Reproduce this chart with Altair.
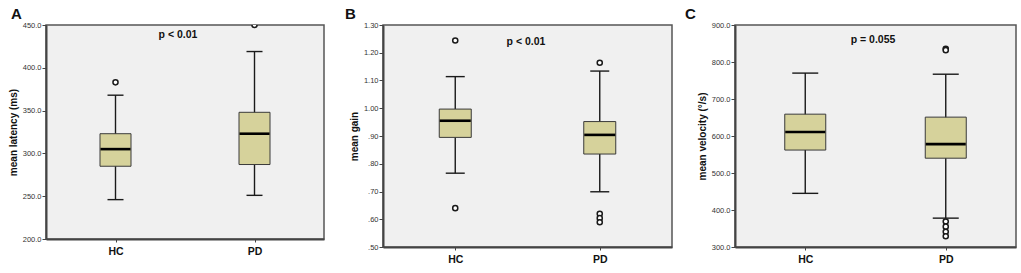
import altair as alt
import pandas as pd

groups = ["HC", "PD"]

# Panel A: mean latency (ms)
lat_low = [246, 251]
lat_q1 = [285, 287]
lat_med = [305, 323]
lat_q3 = [323, 348]
lat_high = [368, 419]
lat_out_group = ["HC", "PD"]
lat_out_value = [383, 450]
lat_ticks = [200, 250, 300, 350, 400, 450]

# Panel B: mean gain
gain_low = [0.766, 0.699]
gain_q1 = [0.895, 0.835]
gain_med = [0.955, 0.904]
gain_q3 = [0.997, 0.952]
gain_high = [1.114, 1.134]
gain_out_group = ["HC", "HC", "PD", "PD", "PD", "PD"]
gain_out_value = [1.244, 0.640, 1.164, 0.620, 0.604, 0.589]
gain_ticks = [0.5, 0.6, 0.7, 0.8, 0.9, 1.0, 1.1, 1.2, 1.3]

# Panel C: mean velocity
vel_low = [445, 378]
vel_q1 = [562, 540]
vel_med = [611, 578]
vel_q3 = [659, 651]
vel_high = [770, 767]
vel_out_group = ["PD", "PD", "PD", "PD", "PD", "PD"]
vel_out_value = [836, 832, 369, 355, 341, 329]
vel_ticks = [300, 400, 500, 600, 700, 800, 900]

letters = ["A", "B", "C"]
p_texts = ["p < 0.01", "p < 0.01", "p = 0.055"]
y_titles = ["mean latency (ms)", "mean gain", "mean velocity (°/s)"]

FONT = "Liberation Sans"
BOX_FILL = "#d6d29b"


def panel(letter, ptext, ytitle, low, q1, med, q3, high, og, ov, ticks,
          label_expr, width, height, box_w, cap_w, letter_dx, p_x, p_y):
    stats = pd.DataFrame({"group": groups, "low": low, "q1": q1, "med": med,
                          "q3": q3, "high": high})
    outs = pd.DataFrame({"group": og, "value": ov})
    xenc = alt.X("group:N",
                 scale=alt.Scale(type="point", padding=0.5, domain=groups),
                 axis=alt.Axis(title=None, labelAngle=0, labelFont=FONT,
                               labelFontSize=10.5, labelFontWeight="bold",
                               labelColor="#111", tickSize=3, tickColor="#444",
                               labelPadding=4, domainColor="#444",
                               domainWidth=2, grid=False))
    yscale = alt.Scale(domain=[ticks[0], ticks[-1]], nice=False, zero=False)
    yaxis = alt.Axis(title=ytitle, values=ticks, labelExpr=label_expr,
                     labelFont=FONT, labelFontSize=7.5, labelColor="#333",
                     tickSize=4, tickColor="#444", labelPadding=1,
                     domainColor="#444", domainWidth=2, grid=False,
                     titleFont=FONT, titleFontSize=10, titleFontWeight="bold",
                     titleColor="#111", titlePadding=4)

    def Y(field):
        return alt.Y(field, scale=yscale, axis=yaxis)

    base = alt.Chart(stats)
    whisk = base.mark_rule(color="#1a1a1a", strokeWidth=1.4, opacity=1).encode(
        x=xenc, y=Y("low:Q"), y2="high:Q")
    cap_lo = base.mark_tick(color="#1a1a1a", size=cap_w, thickness=1.4,
                            opacity=1).encode(x=xenc, y=Y("low:Q"))
    cap_hi = base.mark_tick(color="#1a1a1a", size=cap_w, thickness=1.4,
                            opacity=1).encode(x=xenc, y=Y("high:Q"))
    box = base.mark_bar(size=box_w, fill=BOX_FILL, stroke="#3a3a3a",
                        strokeWidth=1, opacity=1).encode(
        x=xenc, y=Y("q1:Q"), y2="q3:Q")
    median = base.mark_tick(color="black", size=box_w - 1, thickness=2.6,
                            opacity=1).encode(x=xenc, y=Y("med:Q"))
    pts = alt.Chart(outs).mark_point(shape="circle", filled=True, fill="white",
                                     stroke="#1a1a1a", strokeWidth=1.5,
                                     size=26, opacity=1, clip=True).encode(
        x=xenc, y=Y("value:Q"))
    ptxt = alt.Chart(pd.DataFrame({"t": [ptext]})).mark_text(
        font=FONT, fontSize=10.5, fontWeight="bold", color="#111",
        align="center", baseline="middle").encode(
        text="t:N", x=alt.value(p_x), y=alt.value(p_y))
    lett = alt.Chart(pd.DataFrame({"t": [letter]})).mark_text(
        font=FONT, fontSize=15, fontWeight="bold", color="#111",
        align="left", baseline="top").encode(
        text="t:N", x=alt.value(letter_dx), y=alt.value(-18))
    return alt.layer(whisk, cap_lo, cap_hi, box, median, pts, ptxt, lett).properties(
        width=width, height=height)


fmt1 = "format(datum.value, '.1f')"
fmt_gain = ("datum.value < 1 ? substring(format(datum.value, '.2f'), 1) : "
            "format(datum.value, '.2f')")

pA = panel(letters[0], p_texts[0], y_titles[0], lat_low, lat_q1, lat_med,
           lat_q3, lat_high, lat_out_group, lat_out_value, lat_ticks, fmt1,
           278, 214, 31, 16, -35, 132, 10)
pB = panel(letters[1], p_texts[1], y_titles[1], gain_low, gain_q1, gain_med,
           gain_q3, gain_high, gain_out_group, gain_out_value, gain_ticks,
           fmt_gain, 289, 222, 32, 19, -38, 143, 17)
pC = panel(letters[2], p_texts[2], y_titles[2], vel_low, vel_q1, vel_med,
           vel_q3, vel_high, vel_out_group, vel_out_value, vel_ticks, fmt1,
           281, 222, 41, 26, -50, 138, 15)

inner = alt.hconcat(pB, pC, spacing=63, bounds="flush")
chart = alt.hconcat(pA, inner, spacing=59, bounds="flush").properties(
    padding={"left": 7, "top": 6, "right": 0, "bottom": 0},
    background="white",
).configure_view(fill="#f0f0f0", stroke="#555555", strokeWidth=1.5)

chart.save("out.html", embed_options={"renderer": "svg", "actions": False})
